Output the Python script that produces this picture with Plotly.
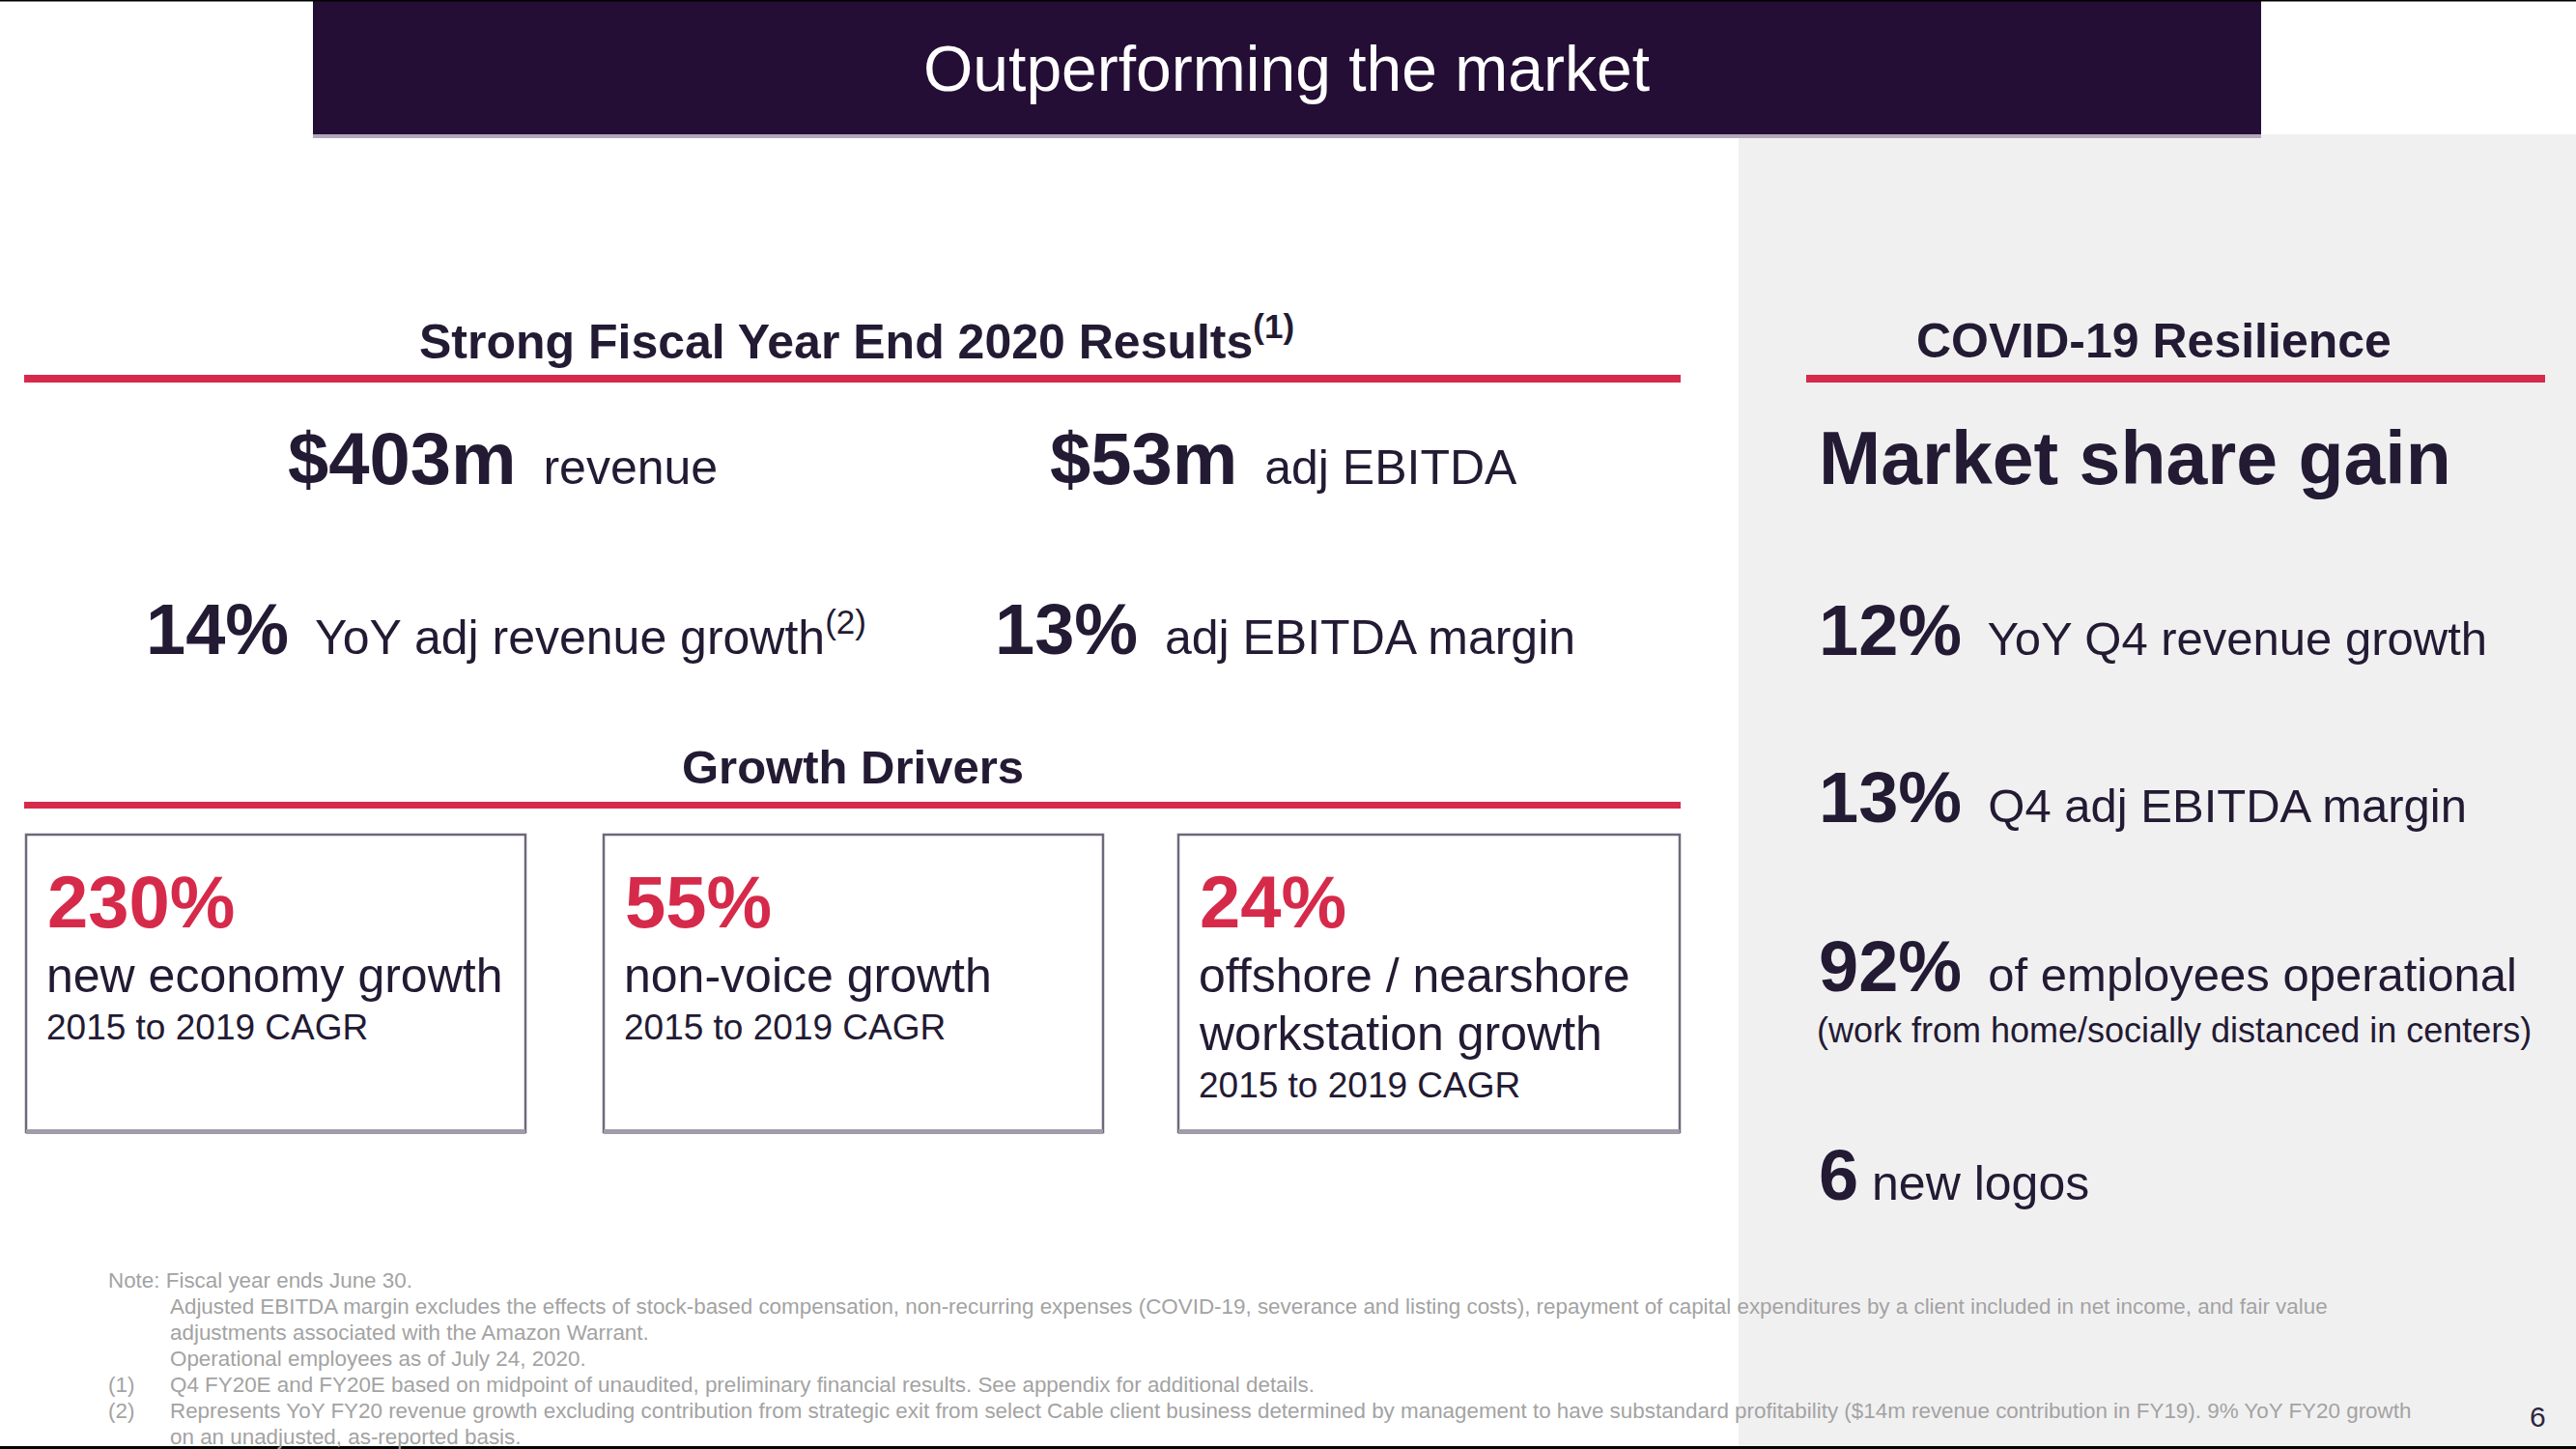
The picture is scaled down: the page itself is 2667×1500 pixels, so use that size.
import plotly.graph_objects as go

# ---------------- data ----------------
slide_title = "Outperforming the market"
left_header = "Strong Fiscal Year End 2020 Results"
drivers_header = "Growth Drivers"
right_header = "COVID-19 Resilience"
right_headline = "Market share gain"

fy_values = ["$403m", "$53m", "14%", "13%"]
fy_labels = ["revenue", "adj EBITDA", "YoY adj revenue growth<sup>(2)</sup>", "adj EBITDA margin"]

driver_values = ["230%", "55%", "24%"]
driver_labels = [["new economy growth"], ["non-voice growth"], ["offshore / nearshore", "workstation growth"]]
driver_period = ["2015 to 2019 CAGR", "2015 to 2019 CAGR", "2015 to 2019 CAGR"]

covid_values = ["12%", "13%", "92%", "6"]
covid_labels = ["YoY Q4 revenue growth", "Q4 adj EBITDA margin", "of employees operational", "new logos"]
covid_note = "(work from home/socially distanced in centers)"

footnote_marks = ["", "", "", "", "(1)", "(2)", ""]
footnote_lines = [
    "Note: Fiscal year ends June 30.",
    "Adjusted EBITDA margin excludes the effects of stock-based compensation, non-recurring expenses (COVID-19, severance and listing costs), repayment of capital expenditures by a client included in net income, and fair value",
    "adjustments associated with the Amazon Warrant.",
    "Operational employees as of July 24, 2020.",
    "Q4 FY20E and FY20E based on midpoint of unaudited, preliminary financial results. See appendix for additional details.",
    "Represents YoY FY20 revenue growth excluding contribution from strategic exit from select Cable client business determined by management to have substandard profitability ($14m revenue contribution in FY19). 9% YoY FY20 growth",
    "on an unadjusted, as-reported basis.",
]
page_number = "6"

# ---------------- style ----------------
W, H = 2667, 1500
FONT = "Liberation Sans, Arial, Helvetica, sans-serif"
DARK = "#231a33"
RED = "#d62a4b"
NAVY = "#240e35"
GREY_BG = "#f1f0f1"
NOTE = "#a3a3a3"
GAP = "&nbsp; "

shapes = []
ann = []

def rect(x0, y0, x1, y1, fill, line=None, lw=0):
    shapes.append(dict(type="rect", xref="x", yref="y", x0=x0, y0=y0, x1=x1, y1=y1,
                       fillcolor=fill, line=dict(color=line or fill, width=lw), layer="below"))

def text(x, y, t, size, color=DARK, xanchor="left", bold=False):
    if bold:
        t = "<b>" + t + "</b>"
    ann.append(dict(x=x, y=y, xref="x", yref="y", text=t, showarrow=False,
                    xanchor=xanchor, yanchor="middle", align="left",
                    font=dict(family=FONT, size=size, color=color)))

# backgrounds
rect(1800, 139, W, H, GREY_BG)
rect(324, 0, 2341, 139, NAVY)
rect(324, 139, 2341, 143, "#b3a8bb")
rect(0, 0, W, 1.5, "#000000")
rect(0, 1497, W, H, "#000000")

# title
text(1332, 71, slide_title, 66, "#ffffff", xanchor="center")

# section headers + red rules
text(432, 350, left_header + "<sup>(1)</sup>", 50, bold=True)
rect(25, 388, 1740, 396, RED)
text(2230, 353, right_header, 50, xanchor="center", bold=True)
rect(1870, 388, 2635, 396, RED)
text(883, 794, drivers_header, 49, xanchor="center", bold=True)
rect(25, 830, 1740, 837, RED)

# FY results
fy_pos = [(296, 474), (1085, 474), (149, 651), (1028, 651)]
fy_sizes = [76, 76, 74, 74]
for (x, y), v, l, s in zip(fy_pos, fy_values, fy_labels, fy_sizes):
    text(x, y, "<b>" + v + "</b><span style='font-size:50px'>" + GAP + l + "</span>", s)

# growth driver boxes
boxes = [(27, 544), (625, 1142), (1220, 1739)]
for (x0, x1), v, labs, per in zip(boxes, driver_values, driver_labels, driver_period):
    rect(x0, 864, x1, 1172, "#ffffff", "#6e687a", 2.5)
    rect(x0, 1169, x1, 1174, "#a19ca9")
    text(x0 + 20, 933, v, 76, RED, bold=True)
    yy = 1010
    for lab in labs:
        text(x0 + 19, yy, lab, 50)
        yy += 60
    text(x0 + 19, yy - 7, per, 37)

# covid resilience
text(1881, 474, right_headline, 77, bold=True)
cov_y = [652, 825, 1000, 1216]
cov_gap = [GAP, GAP, GAP, "&nbsp;"]
cov_label_size = [49, 49, 49, 50]
for y, v, l, g, ls in zip(cov_y, covid_values, covid_labels, cov_gap, cov_label_size):
    text(1881, y, "<b>" + v + "</b><span style='font-size:%dpx'>" % ls + g + l + "</span>", 74)
text(1879, 1066, covid_note, 36)

# footnotes
fy0 = 1325
for i, (m, line) in enumerate(zip(footnote_marks, footnote_lines)):
    y = fy0 + i * 27
    if i == 0:
        text(110, y, line, 22.4, NOTE)
    else:
        if m:
            text(110, y, m, 22.4, NOTE)
        text(174, y, line, 22.4, NOTE)

text(2627, 1466, page_number, 30, "#2e2640", xanchor="center")

fig = go.Figure()
fig.update_layout(
    width=W, height=H,
    margin=dict(l=0, r=0, t=0, b=0),
    paper_bgcolor="#ffffff", plot_bgcolor="#ffffff",
    xaxis=dict(range=[0, W], visible=False, fixedrange=True),
    yaxis=dict(range=[H, 0], visible=False, fixedrange=True),
    shapes=shapes, annotations=ann, showlegend=False,
)
fig.write_html("out.html", config={"displayModeBar": False},
               post_script="document.body.style.margin='0';document.body.style.overflow='hidden';")
